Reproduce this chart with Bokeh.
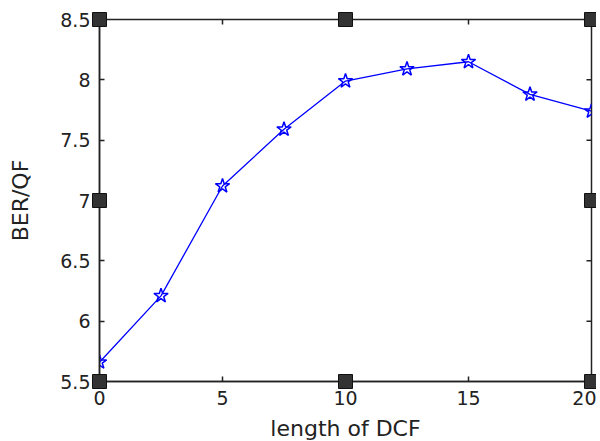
import math
from bokeh.plotting import figure
from bokeh.models import Range1d, FixedTicker
from bokeh.embed import file_html
from bokeh.resources import INLINE

# data
dcf_length = [0, 2.5, 5, 7.5, 10, 12.5, 15, 17.5, 20]
ber_qf = [5.66, 6.21, 7.12, 7.59, 7.99, 8.09, 8.15, 7.88, 7.74]

x_ticks = [0, 5, 10, 15, 20]
y_ticks = [5.5, 6, 6.5, 7, 7.5, 8, 8.5]
y_tick_labels = ["5.5", "6", "6.5", "7", "7.5", "8", "8.5"]
x_range = [0, 20]
y_range = [5.5, 8.5]

FONT = "DejaVu Sans"
AX = "#222222"

p = figure(width=596, height=443, output_backend="svg", toolbar_location=None,
           x_range=Range1d(*x_range), y_range=Range1d(*y_range),
           min_border_left=99, min_border_right=5, min_border_top=19, min_border_bottom=40,
           x_axis_label="length of DCF", y_axis_label="BER/QF")
p.grid.visible = False
p.background_fill_color = "white"
p.border_fill_color = "white"
p.outline_line_color = AX
p.outline_line_width = 1.5

for ax, ticks in ((p.xaxis[0], x_ticks), (p.yaxis[0], y_ticks)):
    ax.ticker = FixedTicker(ticks=ticks)
    ax.major_tick_in = 5
    ax.major_tick_out = 0
    ax.minor_tick_in = 0
    ax.minor_tick_out = 0
    ax.axis_line_color = AX
    ax.axis_line_width = 1.5
    ax.major_tick_line_color = AX
    ax.major_tick_line_width = 1.5
    ax.major_label_text_font = FONT
    ax.major_label_text_font_size = "19px"
    ax.major_label_text_color = AX
    ax.major_label_standoff = 9
    ax.axis_label_text_font = FONT
    ax.axis_label_text_font_size = "22px"
    ax.axis_label_text_font_style = "normal"
    ax.axis_label_text_color = AX
p.yaxis[0].major_label_overrides = {t: l for t, l in zip(y_ticks, y_tick_labels)}
p.xaxis[0].axis_label_standoff = 8
p.yaxis[0].axis_label_standoff = 24

# inward tick marks on the top and right edges of the box (clipped to the frame)
p.scatter(x_ticks, [y_range[1]] * len(x_ticks), marker="dash", size=10, angle=math.pi / 2,
          line_color=AX, line_width=1.5)
p.scatter([x_range[1]] * len(y_ticks), y_ticks, marker="dash", size=10,
          line_color=AX, line_width=1.5)

# curve
p.line(dcf_length, ber_qf, line_color="#0000ff", line_width=1.3)
p.scatter(dcf_length, ber_qf, marker="star", size=15, line_color="#0000ff",
          fill_color=None, line_width=1.5)

# figure-editor selection handles at corners and edge midpoints of the axes box
x_mid = (x_range[0] + x_range[1]) / 2
y_mid = (y_range[0] + y_range[1]) / 2
hx = [x_range[0], x_mid, x_range[1], x_range[0], x_range[1], x_range[0], x_mid, x_range[1]]
hy = [y_range[1], y_range[1], y_range[1], y_mid, y_mid, y_range[0], y_range[0], y_range[0]]
p.scatter(hx, hy, marker="square", size=14, fill_color="#333333", line_color="#111111",
          line_width=1, level="overlay")

open("out.html", "w").write(file_html(p, INLINE))
